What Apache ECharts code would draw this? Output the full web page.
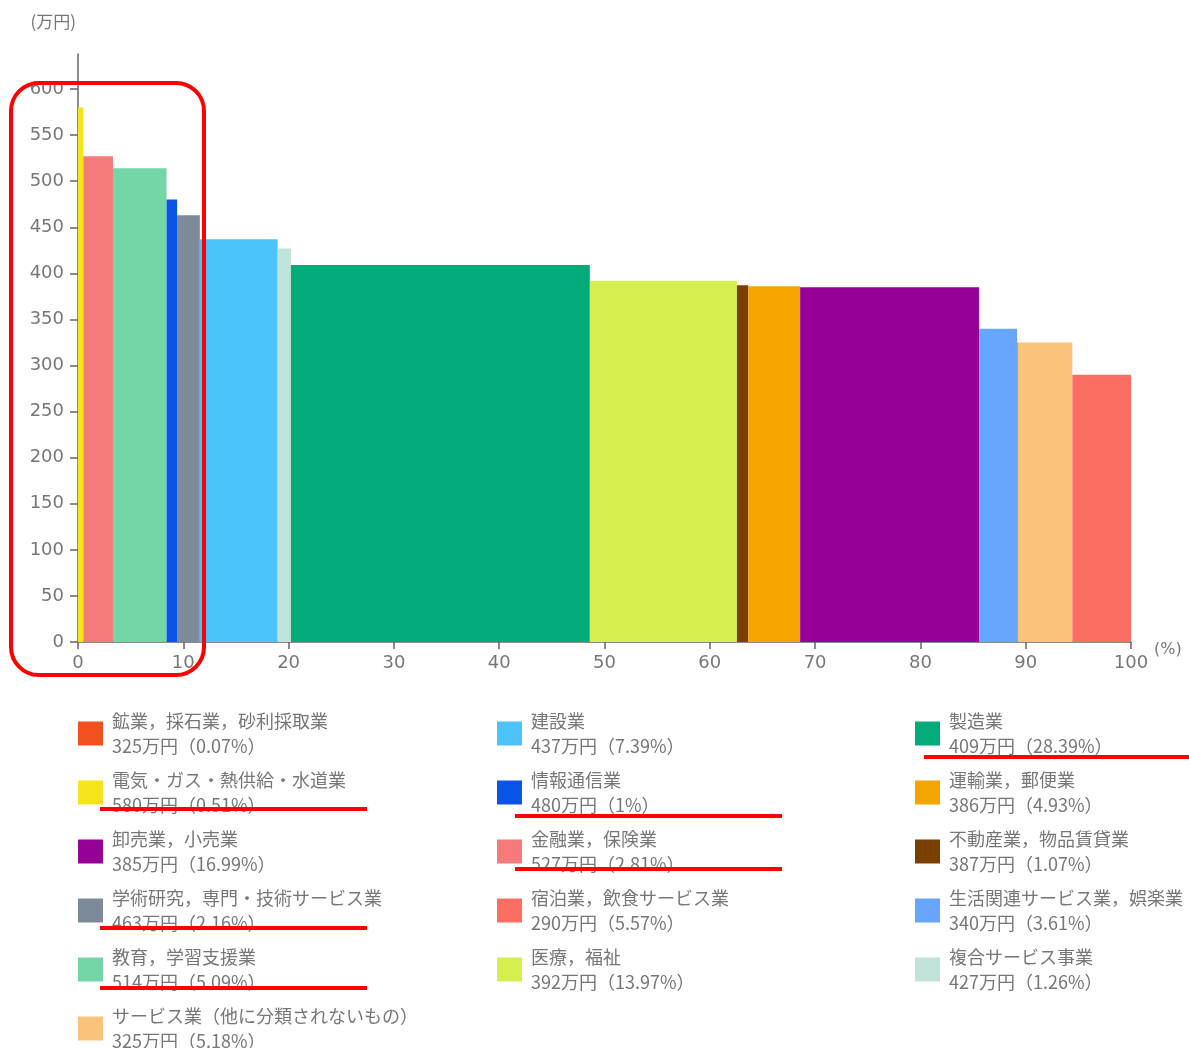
<!DOCTYPE html>
<html>
<head>
<meta charset="utf-8">
<script src="https://cdn.jsdelivr.net/npm/echarts@6/dist/echarts.min.js"></script>
<style>
html,body{margin:0;padding:0;background:#fff;}
#main{width:1189px;height:1048px;}
</style>
</head>
<body>
<div id="main"></div>
<script>
// ---- data ----
const industries = [
  '鉱業，採石業，砂利採取業',
  '電気・ガス・熱供給・水道業',
  '卸売業，小売業',
  '学術研究，専門・技術サービス業',
  '教育，学習支援業',
  'サービス業（他に分類されないもの）',
  '建設業',
  '情報通信業',
  '金融業，保険業',
  '宿泊業，飲食サービス業',
  '医療，福祉',
  '製造業',
  '運輸業，郵便業',
  '不動産業，物品賃貸業',
  '生活関連サービス業，娯楽業',
  '複合サービス事業'
];
const salaries = [325, 580, 385, 463, 514, 325, 437, 480, 527, 290, 392, 409, 386, 387, 340, 427];
const shares   = [0.07, 0.51, 16.99, 2.16, 5.09, 5.18, 7.39, 1, 2.81, 5.57, 13.97, 28.39, 4.93, 1.07, 3.61, 1.26];
// order of the bars along the x axis (descending salary)
const barOrder = [
  '電気・ガス・熱供給・水道業', '金融業，保険業', '教育，学習支援業', '情報通信業',
  '学術研究，専門・技術サービス業', '建設業', '複合サービス事業', '製造業', '医療，福祉',
  '不動産業，物品賃貸業', '運輸業，郵便業', '卸売業，小売業', '生活関連サービス業，娯楽業',
  '鉱業，採石業，砂利採取業', 'サービス業（他に分類されないもの）', '宿泊業，飲食サービス業'
];
const legendCol1 = industries.slice(0, 6);
const legendCol2 = industries.slice(6, 11);
const legendCol3 = industries.slice(11, 16);
const xTicks = [0, 10, 20, 30, 40, 50, 60, 70, 80, 90, 100];
const yMax = 638;

// ---- styles ----
const colorMap = {
  '鉱業，採石業，砂利採取業': '#f2501e',
  '電気・ガス・熱供給・水道業': '#f5e31c',
  '卸売業，小売業': '#960096',
  '学術研究，専門・技術サービス業': '#7d8a99',
  '教育，学習支援業': '#74d6a6',
  'サービス業（他に分類されないもの）': '#fbc27a',
  '建設業': '#4cc3fb',
  '情報通信業': '#0a55e6',
  '金融業，保険業': '#f47a7c',
  '宿泊業，飲食サービス業': '#fb6e62',
  '医療，福祉': '#d6ee4e',
  '製造業': '#04ab7a',
  '運輸業，郵便業': '#f5a500',
  '不動産業，物品賃貸業': '#7b3f00',
  '生活関連サービス業，娯楽業': '#66a6fd',
  '複合サービス事業': '#bfe3d9'
};

const idx = name => industries.indexOf(name);

// build series: one custom series per industry, placed by cumulative share
let cum = 0;
const series = barOrder.map(name => {
  const i = idx(name);
  const start = cum;
  cum += shares[i];
  return {
    type: 'custom',
    name: name,
    itemStyle: { color: colorMap[name] },
    encode: { x: [0, 1], y: 2 },
    data: [[start, cum, salaries[i]]],
    renderItem: function (params, api) {
      const p0 = api.coord([api.value(0), api.value(2)]);
      const p1 = api.coord([api.value(1), 0]);
      return {
        type: 'rect',
        shape: { x: p0[0], y: p0[1], width: p1[0] - p0[0], height: p1[1] - p0[1] },
        style: api.style()
      };
    }
  };
});

const legendFormatter = name => {
  const i = idx(name);
  return '{n|' + name + '}\n{v|' + salaries[i] + '万円（' + shares[i] + '%）}';
};
const legendBase = (data, left) => ({
  data: data.map(n => ({ name: n, icon: 'rect' })),
  orient: 'vertical',
  left: left,
  top: 712,
  height: 420,
  width: 420,
  padding: 0,
  itemWidth: 25,
  itemHeight: 24,
  itemGap: 16,
  selectedMode: false,
  formatter: legendFormatter,
  textStyle: {
    rich: {
      n: { fontSize: 18, lineHeight: 25, color: '#777', fontFamily: 'Noto Sans CJK JP', padding: [0, 0, 0, 4] },
      v: { fontSize: 18, lineHeight: 25, color: '#777', fontFamily: 'Noto Sans CJK JP', padding: [0, 0, 0, 4] }
    }
  }
});

const red = '#ff0000';
const underline = (x1, x2, y) => ({
  type: 'line', z: 100,
  shape: { x1: x1, y1: y, x2: x2, y2: y },
  style: { stroke: red, lineWidth: 4 }
});

const chart = echarts.init(document.getElementById('main'), null, { renderer: 'canvas' });
chart.setOption({
  backgroundColor: '#fff',
  animation: false,
  textStyle: { fontFamily: 'DejaVu Sans' },
  grid: { left: 78, right: 58, top: 54, bottom: 406, containLabel: false },
  xAxis: {
    type: 'value', min: xTicks[0], max: xTicks[xTicks.length - 1], interval: 10,
    name: '(%)', nameLocation: 'end', nameGap: 20,
    nameTextStyle: { color: '#777', fontSize: 16, fontFamily: 'DejaVu Sans', verticalAlign: 'top', padding: [0, 0, 0, 0] },
    axisLine: { show: true, lineStyle: { color: '#666', width: 1.5 } },
    axisTick: { show: true, length: 7, lineStyle: { color: '#666', width: 1.5 } },
    axisLabel: { color: '#777', fontSize: 18, margin: 12, fontFamily: 'DejaVu Sans' },
    splitLine: { show: false }
  },
  yAxis: {
    type: 'value', min: 0, max: yMax, interval: 50,
    name: '(万円)', nameLocation: 'end', nameGap: 24,
    nameTextStyle: { color: '#777', fontSize: 17, fontFamily: 'Noto Sans CJK JP', align: 'right', padding: [0, 2, 0, 0] },
    axisLine: { show: true, lineStyle: { color: '#666', width: 1.5 } },
    axisTick: { show: true, length: 8, lineStyle: { color: '#666', width: 1.5 } },
    axisLabel: { color: '#777', fontSize: 18, margin: 14, showMaxLabel: false, fontFamily: 'DejaVu Sans' },
    splitLine: { show: false }
  },
  legend: [
    legendBase(legendCol1, 78),
    legendBase(legendCol2, 497),
    legendBase(legendCol3, 915)
  ],
  series: series,
  graphic: [
    {
      type: 'rect', z: 100,
      shape: { x: 11, y: 83, width: 193, height: 592, r: 28 },
      style: { fill: 'none', stroke: red, lineWidth: 4 }
    },
    underline(100, 367, 809),
    underline(100, 367, 928),
    underline(100, 367, 988),
    underline(515, 782, 816),
    underline(515, 782, 869),
    underline(924, 1189, 757)
  ]
});
</script>
</body>
</html>
